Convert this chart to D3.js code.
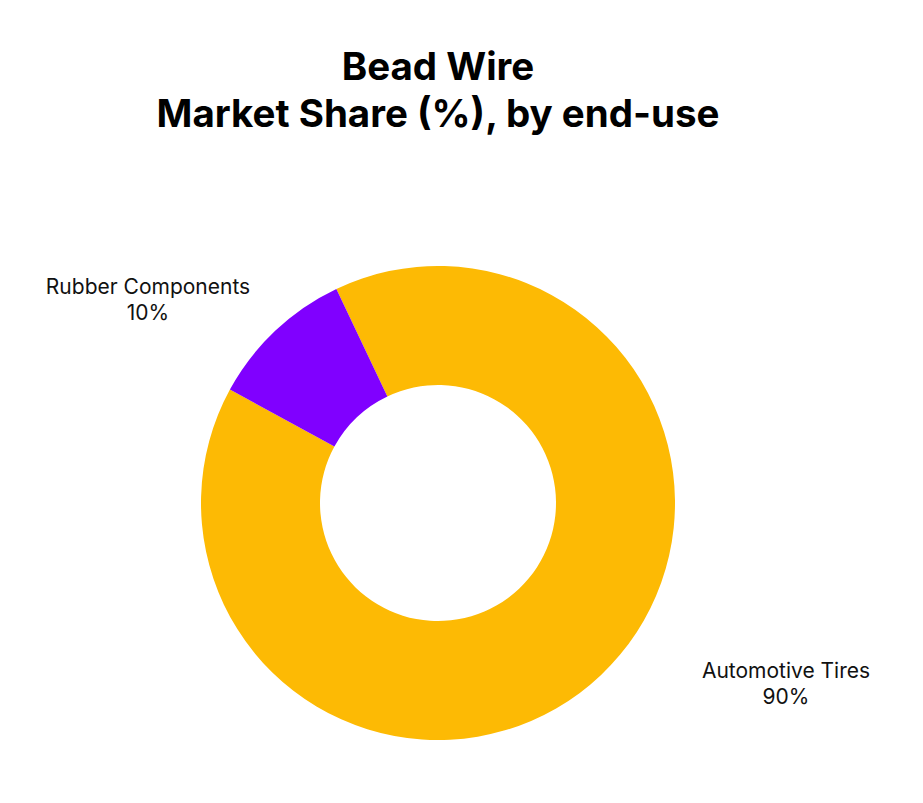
<!DOCTYPE html>
<html>
<head>
<meta charset="utf-8">
<script src="https://cdn.jsdelivr.net/npm/d3@7"></script>
<style>
  body { margin: 0; background: #fff; }
  text { font-family: Inter, "Noto Sans", sans-serif; }
</style>
</head>
<body>
<svg id="chart" width="923" height="803"></svg>
<script>
// data
var categories = ["Automotive Tires", "Rubber Components"];
var shares = [90, 10];
var colors = ["#FDBA04", "#8000FF"];
var titleLines = ["Bead Wire", "Market Share (%), by end-use"];

var svg = d3.select("#chart");
var cx = 438, cy = 503, outerR = 237, innerR = 118;

// title
svg.selectAll(".title")
  .data(titleLines)
  .enter().append("text")
  .attr("class", "title")
  .attr("x", 438)
  .attr("y", function (d, i) { return 80 + i * 47; })
  .attr("text-anchor", "middle")
  .style("font-size", "38.5px")
  .style("font-weight", "700")
  .style("fill", "#000")
  .text(function (d) { return d; });

var rows = categories.map(function (c, i) { return { name: c, value: shares[i], color: colors[i] }; });

var start = -25.4 * Math.PI / 180;
var pie = d3.pie()
  .sort(null)
  .value(function (d) { return d.value; })
  .startAngle(start)
  .endAngle(start + 2 * Math.PI);

var arc = d3.arc().innerRadius(innerR).outerRadius(outerR);

var g = svg.append("g").attr("transform", "translate(" + cx + "," + cy + ")");

var arcs = pie(rows);
g.selectAll("path")
  .data(arcs)
  .enter().append("path")
  .attr("d", arc)
  .attr("fill", function (d) { return d.data.color; });

// labels, outside the ring
var labelPos = {
  "Automotive Tires": [786, 678],
  "Rubber Components": [148, 294]
};
arcs.forEach(function (d) {
  var p = labelPos[d.data.name];
  var t = svg.append("text")
    .attr("x", p[0])
    .attr("y", p[1])
    .attr("text-anchor", "middle")
    .style("font-size", "21px")
    .style("fill", "#111");
  t.append("tspan").attr("x", p[0]).text(d.data.name);
  t.append("tspan").attr("x", p[0]).attr("dy", 26).text(d.data.value + "%");
});
</script>
</body>
</html>
